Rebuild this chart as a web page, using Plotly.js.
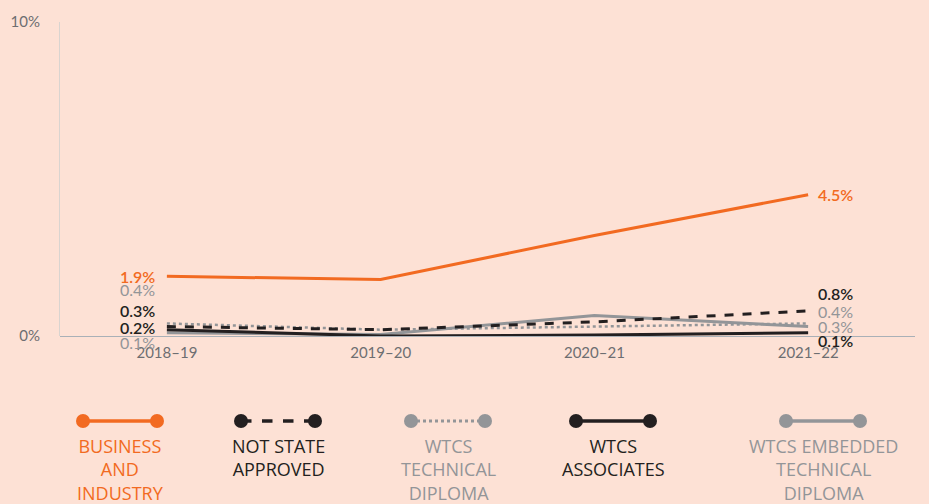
<!DOCTYPE html>
<html><head><meta charset="utf-8">
<script src="https://cdn.plot.ly/plotly-3.0.1.min.js"></script>
<style>html,body{margin:0;padding:0;background:#fde1d5;}#chart{width:929px;height:504px;}</style>
</head><body><div id="chart"></div>
<script>
const years = ["2018–19", "2019–20", "2020–21", "2021–22"];
const seriesNames = ["BUSINESS<br>AND<br>INDUSTRY", "NOT STATE<br>APPROVED", "WTCS<br>TECHNICAL<br>DIPLOMA", "WTCS<br>ASSOCIATES", "WTCS EMBEDDED<br>TECHNICAL<br>DIPLOMA"];
const business = [1.9, 1.8, 3.2, 4.5];
const notState = [0.3, 0.2, 0.45, 0.8];
const techDiploma = [0.4, 0.2, 0.3, 0.4];
const associates = [0.2, 0.0, 0.03, 0.1];
const embedded = [0.1, 0.05, 0.65, 0.3];
const startLabels = ["1.9%", "0.3%", "0.4%", "0.2%", "0.1%"];
const endLabels = ["4.5%", "0.8%", "0.4%", "0.1%", "0.3%"];
const yTicks = [0, 10];
const yTickText = ["0%", "10%"];

const ORANGE = "#f26a21", BLACK = "#231f20", GRAY = "#939598", TICK = "#6d6e71";
const colors = [ORANGE, BLACK, GRAY, BLACK, GRAY];
const dashes = ["solid", "dash", "dot", "solid", "solid"];
const widths = [3, 3, 2.5, 3, 3];
const series = [business, notState, techDiploma, associates, embedded];
const order = [4, 3, 2, 1, 0];

const traces = order.map(i => ({
  x: years, y: series[i], type: "scatter", mode: "lines",
  line: {color: colors[i], width: widths[i], dash: dashes[i]},
  hoverinfo: "skip", showlegend: false
}));

const FONT = "Lato, 'Open Sans', sans-serif";
const LFONT = "'Open Sans', Lato, sans-serif";
// label vertical offsets (pixels) to limit overlaps
const startShift = [0, 16, 34, 2, -10];
const endShift = [0, 17, 12, -8, 0];
const annotations = [];
series.forEach((s, i) => {
  const wt = (i === 2 || i === 4) ? 400 : 600;
  annotations.push({x: years[0], y: s[0], xref: "x", yref: "y", text: startLabels[i],
    showarrow: false, xanchor: "right", xshift: -10, yshift: startShift[i],
    font: {family: FONT, size: 16, color: colors[i], weight: wt}});
  annotations.push({x: years[3], y: s[3], xref: "x", yref: "y", text: endLabels[i],
    showarrow: false, xanchor: "left", xshift: 8, yshift: endShift[i],
    font: {family: FONT, size: 16, color: colors[i], weight: wt}});
});

// legend (positioned in pixel-based paper positions)
const W = 929, H = 504, ml = 60, mr = 14, mt = 22, mb = 168;
const pw = W - ml - mr, ph = H - mt - mb;
const px = v => (v - ml) / pw;
const py = v => (H - mb - v) / ph;
const legCenters = [120, 278, 448, 613, 823];
const shapes = [];
legCenters.forEach((c, i) => {
  const x0 = c - 37, x1 = c + 37, yy = 421;
  shapes.push({type: "line", xref: "paper", yref: "paper", x0: px(x0), x1: px(x1), y0: py(yy), y1: py(yy),
    line: {color: colors[i], width: i === 2 ? 3 : 3.5, dash: i === 1 ? "dash" : (i === 2 ? "dot" : "solid")}});
  [x0, x1].forEach(xx => shapes.push({type: "circle", xref: "paper", yref: "paper",
    x0: px(xx - 7), x1: px(xx + 7), y0: py(yy + 7), y1: py(yy - 7),
    fillcolor: colors[i], line: {width: 0}}));
  annotations.push({xref: "paper", yref: "paper", x: px(c), y: py(432), yanchor: "top", xanchor: "center",
    text: seriesNames[i], showarrow: false, align: "center",
    font: {family: LFONT, size: 18, color: colors[i], weight: 400}});
});

const layout = {
  width: W, height: H,
  paper_bgcolor: "#fde1d5", plot_bgcolor: "#fde1d5",
  margin: {l: ml, r: mr, t: mt, b: mb},
  showlegend: false,
  xaxis: {type: "category", range: [-0.5, 3.5], showgrid: false, zeroline: false, showline: false,
    ticks: "", tickfont: {family: FONT, size: 15, color: TICK}, ticklabelstandoff: 6, fixedrange: true},
  yaxis: {range: [0, 10], tickvals: yTicks, ticktext: yTickText, showgrid: false,
    zeroline: true, zerolinecolor: "#a9b0b7", zerolinewidth: 1,
    showline: true, linecolor: "#d9d4d0", linewidth: 1, ticks: "",
    tickfont: {family: FONT, size: 15, color: TICK}, ticklabelstandoff: 16, fixedrange: true},
  shapes: shapes, annotations: annotations
};
Plotly.newPlot("chart", traces, layout, {displayModeBar: false, staticPlot: true});
</script></body></html>
